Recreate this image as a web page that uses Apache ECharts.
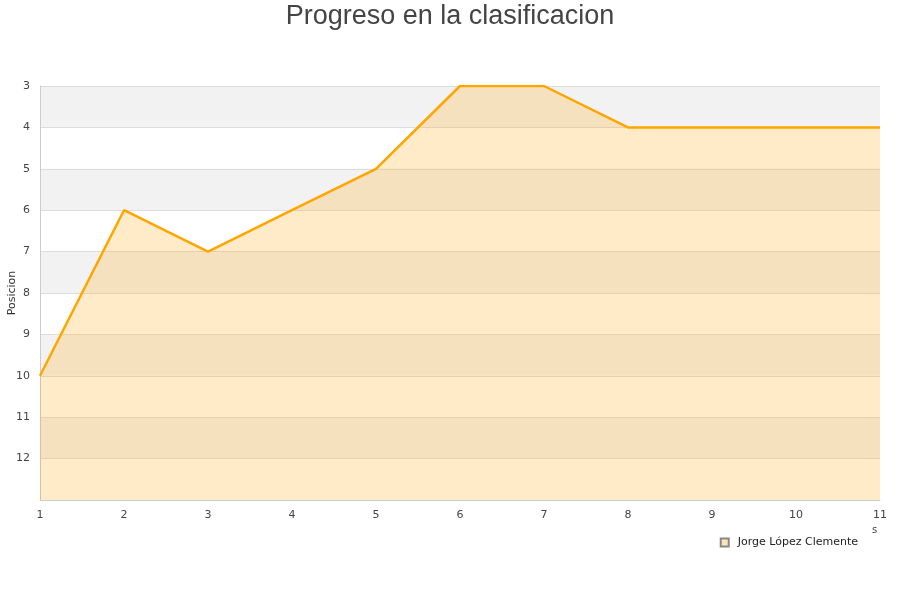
<!DOCTYPE html>
<html>
<head>
<meta charset="utf-8">
<script src="https://cdn.jsdelivr.net/npm/echarts@6/dist/echarts.min.js"></script>
<style>
  html, body { margin: 0; padding: 0; background: #fff; }
  #chart { width: 900px; height: 600px; }
</style>
</head>
<body>
<div id="chart"></div>
<script>
var myChart = echarts.init(document.getElementById("chart"));

const jornadas = ["1", "2", "3", "4", "5", "6", "7", "8", "9", "10", "11"];
const posiciones = [10, 6, 7, 6, 5, 3, 3, 4, 4, 4, 4];
const jugador = "Jorge López Clemente";

const option = {
  backgroundColor: "#fff",
  textStyle: { fontFamily: "DejaVu Sans" },
  title: {
    text: "Progreso en la clasificacion",
    left: "center",
    top: -2,
    textStyle: {
      fontFamily: "Liberation Sans",
      fontSize: 27,
      fontWeight: "normal",
      color: "#444",
    },
  },
  legend: {
    data: [jugador],
    right: 37,
    top: 532,
    icon: "rect",
    itemWidth: 8,
    itemHeight: 8,
    textStyle: { fontSize: 11, color: "#222", padding: [0, 0, 0, 4] },
  },
  // remnant of the x axis title, only its last letter shows
  graphic: [
    {
      type: "text",
      left: 872,
      top: 525,
      style: { text: "s", fontSize: 10, fill: "#444", fontFamily: "DejaVu Sans" },
    },
  ],
  grid: {
    left: 40,
    right: 20,
    top: 86,
    bottom: 100,
    containLabel: false,
    outerBoundsMode: "none",
  },
  xAxis: {
    type: "category",
    data: jornadas,
    boundaryGap: false,
    axisLine: { lineStyle: { color: "#ccc" } },
    axisTick: { show: false },
    axisLabel: { color: "#444", fontSize: 11, margin: 10 },
    splitLine: { show: false },
  },
  yAxis: {
    type: "value",
    inverse: true,
    min: 3,
    max: 13,
    interval: 1,
    name: "Posicion",
    nameLocation: "middle",
    nameGap: 22,
    nameMoveOverlap: false,
    nameTextStyle: { fontSize: 11, color: "#333" },
    axisLine: { show: true, lineStyle: { color: "#ccc" } },
    axisTick: { show: false },
    axisLabel: {
      color: "#444",
      fontSize: 11,
      margin: 10,
      formatter: function (v) {
        return v === 13 ? "" : v;
      },
    },
    splitLine: { show: true, lineStyle: { color: "#ddd" } },
    splitArea: { show: true, areaStyle: { color: ["#f2f2f2", "#ffffff"] } },
  },
  series: [
    {
      name: jugador,
      type: "line",
      data: posiciones,
      showSymbol: false,
      symbol: "none",
      lineStyle: { color: "#ffa500", width: 2.5 },
      itemStyle: { color: "#ffe6b8", borderColor: "#888", borderWidth: 1 },
      areaStyle: { color: "#ffa500", opacity: 0.22, origin: "end" },
    },
  ],
};

myChart.setOption(option);
</script>
</body>
</html>
